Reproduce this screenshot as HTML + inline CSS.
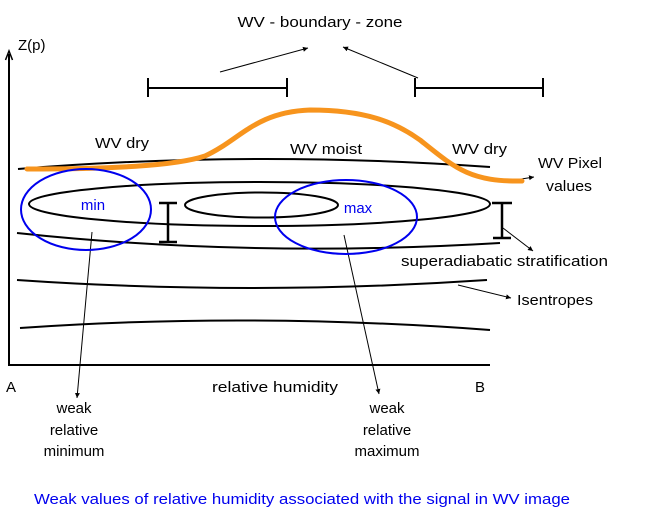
<!DOCTYPE html>
<html><head><meta charset="utf-8"><style>
html,body{margin:0;padding:0;background:#fff;}
svg{display:block;}
text{font-family:"Liberation Sans",sans-serif;font-size:15px;fill:#000;}
</style></head><body>
<svg width="650" height="524" viewBox="0 0 650 524" xmlns="http://www.w3.org/2000/svg">
<defs>
<marker id="ah" markerWidth="6" markerHeight="6" refX="5" refY="3" orient="auto" markerUnits="userSpaceOnUse">
<path d="M0,0.5 L5,3 L0,5.5 z" fill="#000"/></marker>
</defs>
<g fill="none" stroke="#000">
<line x1="9" y1="365" x2="9" y2="54" stroke-width="2"/>
<path d="M5.5,60 L9,51 L12.5,60" stroke-width="1.5"/>
<line x1="8" y1="365" x2="490" y2="365" stroke-width="2"/>
<g stroke-width="2">
<line x1="148" y1="88" x2="287" y2="88"/><line x1="148" y1="78" x2="148" y2="97"/><line x1="287" y1="78" x2="287" y2="97"/>
<line x1="415" y1="88" x2="543" y2="88"/><line x1="415" y1="78" x2="415" y2="97"/><line x1="543" y1="78" x2="543" y2="97"/>
</g>
<g stroke-width="1">
<line x1="220" y1="72" x2="308" y2="48" marker-end="url(#ah)"/>
<line x1="418" y1="78" x2="343" y2="47" marker-end="url(#ah)"/>
</g>
<g stroke-width="2">
<path d="M18,169 Q250,150 490,167"/>
<ellipse cx="259.5" cy="204" rx="230.5" ry="22"/>
<ellipse cx="261.5" cy="205" rx="76.5" ry="12.5"/>
<path d="M17,233 Q250,258 500,243"/>
<path d="M17,280 Q250,296 487,280"/>
<path d="M20,328 Q250,312 490,330"/>
</g>
<g stroke-width="2.5">
<line x1="168" y1="203" x2="168" y2="242"/><line x1="159" y1="203" x2="177" y2="203"/><line x1="159" y1="242" x2="177" y2="242"/>
<line x1="502" y1="203" x2="502" y2="238"/><line x1="492" y1="203" x2="512" y2="203"/><line x1="493" y1="238" x2="511" y2="238"/>
</g>
<g stroke-width="1">
<line x1="503" y1="228" x2="533" y2="251" marker-end="url(#ah)"/>
<line x1="458" y1="285" x2="511" y2="298" marker-end="url(#ah)"/>
<line x1="515" y1="180" x2="534" y2="177" marker-end="url(#ah)"/>
<line x1="92" y1="232" x2="77" y2="398" marker-end="url(#ah)"/>
<line x1="344" y1="235" x2="379" y2="394" marker-end="url(#ah)"/>
</g>
<path d="M27,169 C110,169 175,166 205,156 C240,140 255,112 310,110 C365,110 395,122 420,140 C455,168 470,182 522,181" stroke="#f7941d" stroke-width="5" stroke-linecap="round"/>
<g stroke="#0000ee" stroke-width="2">
<ellipse cx="86" cy="209.5" rx="65" ry="40.5"/>
<ellipse cx="346" cy="217" rx="71" ry="37"/>
</g>
</g>
<text x="320" y="27" text-anchor="middle" textLength="165" lengthAdjust="spacingAndGlyphs">WV - boundary - zone</text>
<text x="18" y="50">Z(p)</text>
<text x="95" y="148" textLength="54" lengthAdjust="spacingAndGlyphs">WV dry</text>
<text x="290" y="154" textLength="72" lengthAdjust="spacingAndGlyphs">WV moist</text>
<text x="452" y="154" textLength="55" lengthAdjust="spacingAndGlyphs">WV dry</text>
<text x="538" y="168" textLength="64" lengthAdjust="spacingAndGlyphs">WV Pixel</text>
<text x="546" y="191" textLength="46" lengthAdjust="spacingAndGlyphs">values</text>
<text x="93" y="210" text-anchor="middle" style="fill:#0000ee">min</text>
<text x="358" y="213" text-anchor="middle" style="fill:#0000ee">max</text>
<text x="401" y="266" textLength="207" lengthAdjust="spacingAndGlyphs">superadiabatic stratification</text>
<text x="517" y="305" textLength="76" lengthAdjust="spacingAndGlyphs">Isentropes</text>
<text x="6" y="392">A</text>
<text x="212" y="392" textLength="126" lengthAdjust="spacingAndGlyphs">relative humidity</text>
<text x="475" y="392">B</text>
<text x="74" y="413" text-anchor="middle">weak</text>
<text x="74" y="435" text-anchor="middle">relative</text>
<text x="74" y="456" text-anchor="middle">minimum</text>
<text x="387" y="413" text-anchor="middle">weak</text>
<text x="387" y="435" text-anchor="middle">relative</text>
<text x="387" y="456" text-anchor="middle">maximum</text>
<text x="34" y="504" textLength="536" lengthAdjust="spacingAndGlyphs" style="fill:#0000ee">Weak values of relative humidity associated with the signal in WV image</text>
</svg>
</body></html>
